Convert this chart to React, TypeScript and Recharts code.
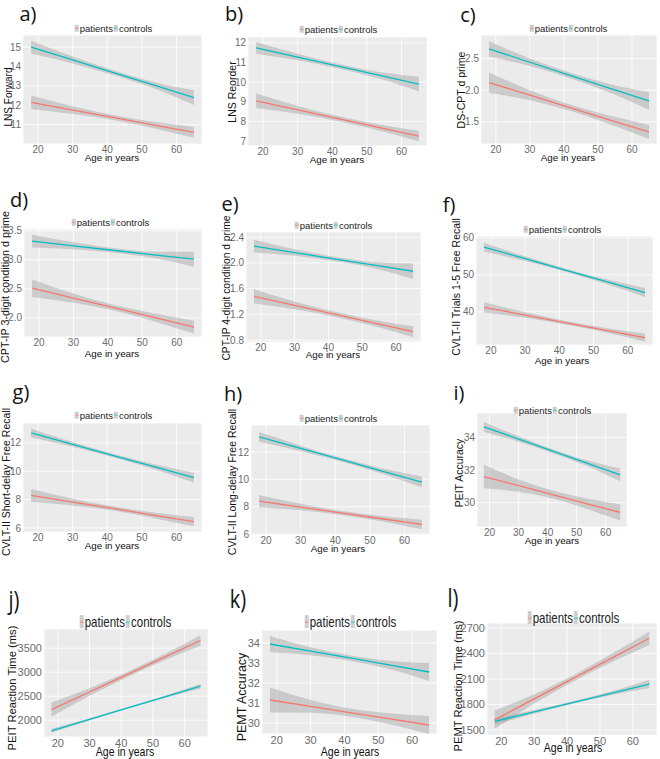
import { ComposedChart, Area, Line, XAxis, YAxis, CartesianGrid } from 'recharts'

const AGES = [18, 30, 42, 54, 65]
const AGE_TICKS = [20, 30, 40, 50, 60]
const AGE_DOMAIN: [number, number] = [15.65, 67.35]

// each row: [fit, lower CI, upper CI] at the matching age in AGES
const LNS_FWD_PAT = [[12.15, 11.8, 12.5], [11.75, 11.55, 11.95], [11.36, 11.23, 11.49], [10.96, 10.79, 11.13], [10.6, 10.32, 10.88]]
const LNS_FWD_CON = [[15.0, 14.67, 15.33], [14.34, 14.16, 14.52], [13.67, 13.55, 13.79], [13.01, 12.84, 13.18], [12.4, 12.02, 12.78]]
const LNS_FWD_TICKS = [11, 12, 13, 14, 15]

const LNS_REO_PAT = [[9.05, 8.67, 9.43], [8.59, 8.39, 8.79], [8.13, 8.0, 8.26], [7.67, 7.51, 7.83], [7.25, 6.98, 7.52]]
const LNS_REO_CON = [[11.75, 11.45, 12.05], [11.28, 11.11, 11.45], [10.8, 10.68, 10.92], [10.33, 10.16, 10.5], [9.9, 9.53, 10.27]]
const LNS_REO_TICKS = [7, 8, 9, 10, 11, 12]

const DS_CPT_PAT = [[2.12, 1.96, 2.28], [1.92, 1.84, 2.0], [1.72, 1.67, 1.77], [1.52, 1.45, 1.59], [1.34, 1.23, 1.45]]
const DS_CPT_CON = [[2.65, 2.53, 2.77], [2.44, 2.38, 2.5], [2.23, 2.185, 2.275], [2.02, 1.95, 2.09], [1.83, 1.69, 1.97]]
const DS_CPT_TICKS = [1.5, 2.0, 2.5]

const CPT3_PAT = [[2.51, 2.36, 2.66], [2.34, 2.26, 2.42], [2.17, 2.12, 2.22], [2.0, 1.93, 2.07], [1.84, 1.73, 1.95]]
const CPT3_CON = [[3.32, 3.21, 3.43], [3.24, 3.18, 3.3], [3.16, 3.12, 3.2], [3.08, 3.02, 3.14], [3.01, 2.88, 3.14]]
const CPT3_TICKS = [2.0, 2.5, 3.0, 3.5]

const CPT4_PAT = [[1.48, 1.37, 1.59], [1.34, 1.28, 1.4], [1.2, 1.16, 1.24], [1.06, 1.01, 1.11], [0.93, 0.845, 1.015]]
const CPT4_CON = [[2.26, 2.16, 2.36], [2.16, 2.11, 2.21], [2.06, 2.025, 2.095], [1.96, 1.91, 2.01], [1.87, 1.75, 1.99]]
const CPT4_TICKS = [0.8, 1.2, 1.6, 2.0, 2.4]

const CVLT15_PAT = [[41.2, 39.8, 42.6], [39.11, 38.36, 39.86], [37.01, 36.51, 37.51], [34.92, 34.32, 35.52], [33.0, 31.9, 34.1]]
const CVLT15_CON = [[57.5, 56.3, 58.7], [54.36, 53.71, 55.01], [51.22, 50.77, 51.67], [48.08, 47.43, 48.73], [45.2, 43.95, 46.45]]
const CVLT15_TICKS = [40, 50, 60]

const CVLT_SD_PAT = [[8.3, 7.85, 8.75], [7.83, 7.59, 8.07], [7.36, 7.21, 7.51], [6.88, 6.68, 7.08], [6.45, 6.12, 6.78]]
const CVLT_SD_CON = [[12.7, 12.4, 13.0], [11.9, 11.73, 12.07], [11.09, 10.97, 11.21], [10.29, 10.11, 10.47], [9.55, 9.2, 9.9]]
const CVLT_SD_TICKS = [6, 8, 10, 12]

const CVLT_LD_PAT = [[8.4, 7.95, 8.85], [7.97, 7.73, 8.21], [7.53, 7.38, 7.68], [7.1, 6.9, 7.3], [6.7, 6.35, 7.05]]
const CVLT_LD_CON = [[13.1, 12.75, 13.45], [12.26, 12.06, 12.46], [11.42, 11.29, 11.55], [10.57, 10.37, 10.77], [9.8, 9.4, 10.2]]
const CVLT_LD_TICKS = [6, 8, 10, 12]

const PEIT_ACC_PAT = [[31.6, 30.88, 32.32], [31.04, 30.66, 31.42], [30.48, 30.23, 30.73], [29.91, 29.58, 30.24], [29.4, 28.9, 29.9]]
const PEIT_ACC_CON = [[34.65, 34.35, 34.95], [33.9, 33.73, 34.07], [33.14, 33.02, 33.26], [32.39, 32.21, 32.57], [31.7, 31.3, 32.1]]
const PEIT_ACC_TICKS = [30, 32, 34]

const PEIT_RT_PAT = [[2220, 2070, 2370], [2588, 2508, 2668], [2955, 2900, 3010], [3323, 3258, 3388], [3660, 3550, 3770]]
const PEIT_RT_CON = [[1780, 1740, 1820], [2017, 1995, 2039], [2255, 2240, 2270], [2492, 2470, 2514], [2710, 2660, 2760]]
const PEIT_RT_TICKS = [2000, 2500, 3000, 3500]

const PEMT_ACC_PAT = [[31.15, 30.53, 31.77], [30.83, 30.51, 31.15], [30.51, 30.31, 30.71], [30.19, 29.91, 30.47], [29.9, 29.45, 30.35]]
const PEMT_ACC_CON = [[33.95, 33.55, 34.35], [33.59, 33.39, 33.79], [33.24, 33.1, 33.38], [32.88, 32.66, 33.1], [32.55, 32.1, 33.0]]
const PEMT_ACC_TICKS = [30, 31, 32, 33, 34]

const PEMT_RT_PAT = [[1620, 1510, 1730], [1865, 1810, 1920], [2110, 2072, 2148], [2355, 2305, 2405], [2580, 2500, 2660]]
const PEMT_RT_CON = [[1600, 1560, 1640], [1712, 1690, 1734], [1825, 1810, 1840], [1937, 1915, 1959], [2040, 1990, 2090]]
const PEMT_RT_TICKS = [1500, 1800, 2100, 2400, 2700]

const PAT_COLOR = '#F8766D'
const CON_COLOR = '#00BFC4'
const FONT = 'Liberation Sans, Arial, sans-serif'

interface PanelDef {
  letter: string
  letterAt: [number, number]
  ylabel: string
  ylabelAt: [number, number]
  ylabelSize: number
  legendAt: [number, number]
  ageAt: [number, number]
  plot: [number, number, number, number]
  domain: [number, number]
  ticks: number[]
  pat: number[][]
  con: number[][]
  digits: number
  bottom?: boolean
}

const PANELS: PanelDef[] = [
  { letter: 'a)', letterAt: [28, 14], ylabel: 'LNS Forward', ylabelAt: [8, 97], ylabelSize: 10, legendAt: [113, 29], ageAt: [112, 158], plot: [23, 35, 202, 144], domain: [10.0, 15.63], ticks: LNS_FWD_TICKS, pat: LNS_FWD_PAT, con: LNS_FWD_CON, digits: 0 },
  { letter: 'b)', letterAt: [234, 14], ylabel: 'LNS Reorder', ylabelAt: [233, 92], ylabelSize: 10.5, legendAt: [338, 30], ageAt: [337, 160], plot: [248, 37, 427, 146], domain: [6.75, 12.3], ticks: LNS_REO_TICKS, pat: LNS_REO_PAT, con: LNS_REO_CON, digits: 0 },
  { letter: 'c)', letterAt: [468, 15], ylabel: 'DS-CPT d prime', ylabelAt: [462, 90], ylabelSize: 10.5, legendAt: [568, 29], ageAt: [568, 158], plot: [481, 35, 657, 144], domain: [1.15, 2.87], ticks: DS_CPT_TICKS, pat: DS_CPT_PAT, con: DS_CPT_CON, digits: 1 },
  { letter: 'd)', letterAt: [19, 200], ylabel: 'CPT-IP 3-digit condition d prime', ylabelAt: [6, 287], ylabelSize: 10.8, legendAt: [110, 223], ageAt: [112, 354], plot: [24, 229, 202, 337], domain: [1.67, 3.53], ticks: CPT3_TICKS, pat: CPT3_PAT, con: CPT3_CON, digits: 1 },
  { letter: 'e)', letterAt: [230, 204], ylabel: 'CPT-IP 4-digit condition d prime', ylabelAt: [227, 288], ylabelSize: 10.3, legendAt: [333, 226], ageAt: [333, 355], plot: [246, 232, 421, 342], domain: [0.77, 2.48], ticks: CPT4_TICKS, pat: CPT4_PAT, con: CPT4_CON, digits: 1 },
  { letter: 'f)', letterAt: [449, 205], ylabel: 'CVLT-II Trials 1-5 Free Recall', ylabelAt: [457, 287], ylabelSize: 10.5, legendAt: [562, 230], ageAt: [562, 361], plot: [476, 236, 653, 345], domain: [31, 60.5], ticks: CVLT15_TICKS, pat: CVLT15_PAT, con: CVLT15_CON, digits: 0 },
  { letter: 'g)', letterAt: [21, 392], ylabel: 'CVLT-II Short-delay Free Recall', ylabelAt: [7, 482], ylabelSize: 10.5, legendAt: [113, 416], ageAt: [112, 546], plot: [23, 423, 202, 532], domain: [5.72, 13.4], ticks: CVLT_SD_TICKS, pat: CVLT_SD_PAT, con: CVLT_SD_CON, digits: 0 },
  { letter: 'h)', letterAt: [233, 394], ylabel: 'CVLT-II Long-delay Free Recall', ylabelAt: [233, 482], ylabelSize: 10.5, legendAt: [338, 419], ageAt: [338, 549], plot: [251, 425, 430, 535], domain: [5.93, 13.97], ticks: CVLT_LD_TICKS, pat: CVLT_LD_PAT, con: CVLT_LD_CON, digits: 0 },
  { letter: 'i)', letterAt: [459, 393], ylabel: 'PEIT Accuracy', ylabelAt: [460, 473], ylabelSize: 10.5, legendAt: [552, 411], ageAt: [552, 541], plot: [477, 413, 627, 527], domain: [28.5, 35.5], ticks: PEIT_ACC_TICKS, pat: PEIT_ACC_PAT, con: PEIT_ACC_CON, digits: 0 },
  { letter: 'j)', letterAt: [14, 600], ylabel: 'PEIT Reaction Time (ms)', ylabelAt: [12, 688], ylabelSize: 11.2, legendAt: [125, 622], ageAt: [125, 752], plot: [44, 629, 208, 737], domain: [1650, 3900], ticks: PEIT_RT_TICKS, pat: PEIT_RT_PAT, con: PEIT_RT_CON, digits: 0, bottom: true },
  { letter: 'k)', letterAt: [238, 599], ylabel: 'PEMT Accuracy', ylabelAt: [243, 697], ylabelSize: 12.5, legendAt: [350, 622], ageAt: [350, 752], plot: [262, 630, 437, 734], domain: [29.45, 34.65], ticks: PEMT_ACC_TICKS, pat: PEMT_ACC_PAT, con: PEMT_ACC_CON, digits: 0, bottom: true },
  { letter: 'l)', letterAt: [453, 598], ylabel: 'PEMT Reaction Time (ms)', ylabelAt: [458, 686], ylabelSize: 11.2, legendAt: [573, 618], ageAt: [573, 748], plot: [487, 623, 657, 735], domain: [1440, 2760], ticks: PEMT_RT_TICKS, pat: PEMT_RT_PAT, con: PEMT_RT_CON, digits: 0, bottom: true },
]

const centered = (x: number, y: number, sy = 1, rotate = false): React.CSSProperties => ({
  position: 'absolute', left: x, top: y, whiteSpace: 'nowrap', lineHeight: 1.1,
  transform: `translate(-50%, -50%)${sy !== 1 ? ` scale(1, ${sy})` : ''}${rotate ? ' rotate(-90deg)' : ''}`,
})

function Swatch({ color }: { color: string }) {
  return (
    <span style={{
      display: 'inline-block', width: 4, height: '0.8em', background: '#cfcfcf',
      position: 'relative', verticalAlign: '-0.05em', margin: '0 1px',
    }}>
      <span style={{ position: 'absolute', left: 0, right: 0, top: '45%', height: 1, background: color, opacity: 0.6 }} />
    </span>
  )
}

function Panel({ p }: { p: PanelDef }) {
  const L = 40, T = 6, R = 6, B = 22
  const [x0, y0, x1, y1] = p.plot
  const w = x1 - x0, h = y1 - y0
  const sy = p.bottom ? 1.3 : 1
  const tickSize = p.bottom ? 11 : 10
  const rows = AGES.map((age, i) => ({
    age,
    pat: p.pat[i][0], patCi: [p.pat[i][1], p.pat[i][2]],
    con: p.con[i][0], conCi: [p.con[i][1], p.con[i][2]],
  }))
  return (
    <>
      <div style={{ position: 'absolute', left: x0 - L, top: y0 - T }}>
        <ComposedChart width={w + L + R} height={h + T + B} data={rows} margin={{ top: T, right: R, left: 0, bottom: 0 }}>
          <CartesianGrid fill="#ebebeb" stroke="#ffffff" strokeWidth={0.8} />
          <XAxis
            type="number" dataKey="age" domain={AGE_DOMAIN} ticks={AGE_TICKS} allowDataOverflow
            axisLine={false} tickLine={false} tickSize={0} tickMargin={2} height={B}
            tick={{ fontSize: tickSize, fill: '#6b6b6b', fontFamily: FONT }}
          />
          <YAxis
            type="number" domain={p.domain} ticks={p.ticks} allowDataOverflow
            axisLine={false} tickLine={false} tickSize={0} tickMargin={2} width={L}
            tickFormatter={(v: number) => v.toFixed(p.digits)}
            tick={{ fontSize: tickSize, fill: '#6b6b6b', fontFamily: FONT }}
          />
          <Area type="monotone" dataKey="patCi" stroke="none" fill="#999999" fillOpacity={0.4} isAnimationActive={false} />
          <Line type="linear" dataKey="pat" stroke={PAT_COLOR} strokeWidth={1.3} dot={false} activeDot={false} isAnimationActive={false} />
          <Area type="monotone" dataKey="conCi" stroke="none" fill="#999999" fillOpacity={0.4} isAnimationActive={false} />
          <Line type="linear" dataKey="con" stroke={CON_COLOR} strokeWidth={1.3} dot={false} activeDot={false} isAnimationActive={false} />
        </ComposedChart>
      </div>
      <div style={{ ...centered(p.letterAt[0], p.letterAt[1], sy), fontFamily: "'Open Sans', sans-serif", fontSize: 20, color: '#111' }}>
        {p.letter}
      </div>
      <div style={{ ...centered(p.legendAt[0], p.legendAt[1], sy), fontFamily: FONT, fontSize: p.bottom ? 11.5 : 9.5, color: '#222' }}>
        <Swatch color={PAT_COLOR} />patients<Swatch color={CON_COLOR} />controls
      </div>
      <div style={{ ...centered(p.ageAt[0], p.ageAt[1], sy), fontFamily: FONT, fontSize: p.bottom ? 10.5 : 9.8, color: '#111' }}>
        Age in years
      </div>
      <div style={{ ...centered(p.ylabelAt[0], p.ylabelAt[1], 1, true), fontFamily: FONT, fontSize: p.ylabelSize, color: '#111' }}>
        {p.ylabel}
      </div>
    </>
  )
}

export default function App() {
  return (
    <div style={{ position: 'absolute', left: 0, top: 0, width: 660, height: 759, background: '#fff', overflow: 'hidden' }}>
      {PANELS.map(p => <Panel key={p.letter} p={p} />)}
    </div>
  )
}
